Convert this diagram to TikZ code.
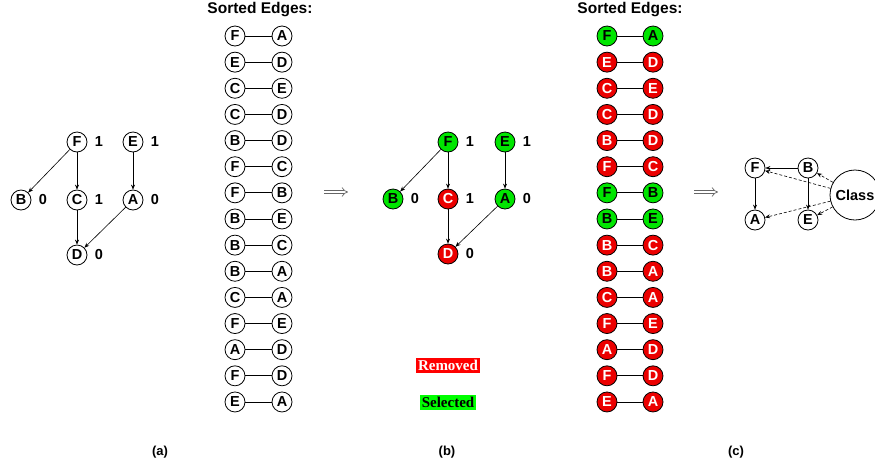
\documentclass[tikz,border=0pt]{standalone}
\usepackage{fontspec}
\setmainfont{Liberation Sans}
\newfontfamily\serifbf{Liberation Serif}
\usetikzlibrary{arrows.meta}
\definecolor{ngreen}{RGB}{0,230,0}
\definecolor{nred}{RGB}{235,0,0}
\definecolor{bgreen}{RGB}{0,255,0}
\definecolor{bred}{RGB}{255,0,0}
\begin{document}
\begin{tikzpicture}[x=1pt,y=-1pt,
  vtx/.style={circle,draw,line width=0.8pt,minimum size=20pt,inner sep=0pt,font=\fontsize{14.5}{14.5}\selectfont\bfseries,fill=white},
  gv/.style={vtx,fill=ngreen,text=black},
  rv/.style={vtx,fill=nred,text=white},
  wv/.style={vtx},
  num/.style={font=\fontsize{14.5}{14.5}\selectfont\bfseries},
  arr/.style={-{Stealth[length=5pt,width=4pt]},line width=0.6pt},
  darr/.style={arr,densely dashed},
  pair/.style={line width=0.8pt},
  title/.style={font=\fontsize{15.5}{16}\selectfont\bfseries},
  subcap/.style={font=\fontsize{13}{13}\selectfont\bfseries},
  impl/.style={draw=black!60,double=white,double distance=2.6pt,line width=0.7pt,-{Implies}},
  legend/.style={font=\fontsize{15}{15}\serifbf\bfseries,inner xsep=2pt,inner ysep=0pt,minimum height=15pt},
]
\useasboundingbox (0,0) rectangle (875,467);

% ---------- (a) graph ----------
\node[wv] (aF) at (77,142) {F};
\node[wv] (aE) at (133,142) {E};
\node[wv] (aB) at (21,200) {B};
\node[wv] (aC) at (77,200) {C};
\node[wv] (aA) at (133,200) {A};
\node[wv] (aD) at (77,255) {D};
\node[num] (naF) at (99,142) {1};
\node[num] (naE) at (155,142) {1};
\node[num] (naB) at (43,200) {0};
\node[num] (naC) at (99,200) {1};
\node[num] (naA) at (155,200) {0};
\node[num] (naD) at (99,255) {0};
\draw[arr] (aF) -- (aB);
\draw[arr] (aF) -- (aC);
\draw[arr] (aE) -- (aA);
\draw[arr] (aC) -- (aD);
\draw[arr] (aA) -- (aD);

% ---------- sorted edges (a) ----------
\node[title] (ta) at (260,10) {Sorted Edges:};
\foreach \i/\l/\r in {0/F/A,1/E/D,2/C/E,3/C/D,4/B/D,5/F/C,6/F/B,7/B/E,8/B/C,9/B/A,10/C/A,11/F/E,12/A/D,13/F/D,14/E/A}{
  \node[wv] (la\i) at (235,{36+26.14*\i}) {\l};
  \node[wv] (ra\i) at (282,{36+26.14*\i}) {\r};
  \draw[pair] (la\i) -- (ra\i);
}

\coordinate (i1s) at (324,192);
\coordinate (i1e) at (348,192);
\draw[impl] (i1s) -- (i1e);

% ---------- (b) graph ----------
\node[gv] (bF) at (448,142) {F};
\node[gv] (bE) at (505,142) {E};
\node[gv] (bB) at (393,199) {B};
\node[rv] (bC) at (448,199) {C};
\node[gv] (bA) at (505,199) {A};
\node[rv] (bD) at (448,254) {D};
\node[num] (nbF) at (470,142) {1};
\node[num] (nbE) at (527,142) {1};
\node[num] (nbB) at (415,199) {0};
\node[num] (nbC) at (470,199) {1};
\node[num] (nbA) at (527,199) {0};
\node[num] (nbD) at (470,254) {0};
\draw[arr] (bF) -- (bB);
\draw[arr] (bF) -- (bC);
\draw[arr] (bE) -- (bA);
\draw[arr] (bC) -- (bD);
\draw[arr] (bA) -- (bD);

\node[legend,fill=bred,text=white] (rem) at (448,365) {Removed};
\node[legend,fill=bgreen,text=black] (sel) at (448,402) {Selected};

% ---------- sorted edges (b) ----------
\node[title] (tb) at (630,10) {Sorted Edges:};
\foreach \i/\l/\r/\s in {0/F/A/gv,1/E/D/rv,2/C/E/rv,3/C/D/rv,4/B/D/rv,5/F/C/rv,6/F/B/gv,7/B/E/gv,8/B/C/rv,9/B/A/rv,10/C/A/rv,11/F/E/rv,12/A/D/rv,13/F/D/rv,14/E/A/rv}{
  \node[\s] (lb\i) at (607,{36+26.14*\i}) {\l};
  \node[\s] (rb\i) at (653,{36+26.14*\i}) {\r};
  \draw[pair] (lb\i) -- (rb\i);
}

\coordinate (i2s) at (694,192);
\coordinate (i2e) at (718,192);
\draw[impl] (i2s) -- (i2e);

% ---------- (c) graph ----------
\node[wv] (cF) at (755,168) {F};
\node[wv] (cB) at (808,168) {B};
\node[wv] (cA) at (755,220) {A};
\node[wv] (cE) at (808,220) {E};
\node[circle,draw,line width=0.8pt,minimum size=50pt,inner sep=0pt,font=\fontsize{14.5}{14.5}\selectfont\bfseries,fill=white] (cls) at (855,195) {Class};
\draw[arr] (cB) -- (cF);
\draw[arr] (cB) -- (cE);
\draw[arr] (cF) -- (cA);
\draw[darr] (cls) -- (cB);
\draw[darr] (cls) -- (cF);
\draw[darr] (cls) -- (cA);
\draw[darr] (cls) -- (cE);

% ---------- captions ----------
\node[subcap] (capa) at (160,452) {(a)};
\node[subcap] (capb) at (447,452) {(b)};
\node[subcap] (capc) at (736,452) {(c)};
\end{tikzpicture}
\end{document}
